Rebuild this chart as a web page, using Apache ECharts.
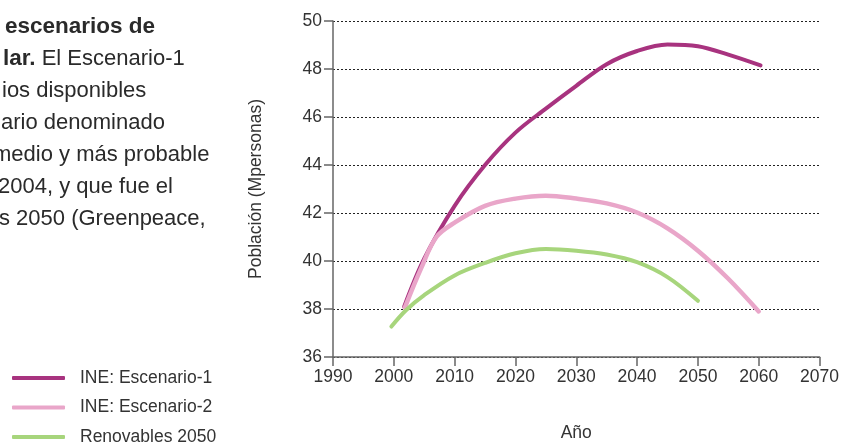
<!DOCTYPE html>
<html><head><meta charset="utf-8">
<script src="https://cdn.jsdelivr.net/npm/echarts@6/dist/echarts.min.js"></script>
<style>html,body{margin:0;padding:0;background:#fff}#c{width:842px;height:447px}</style>
</head><body><div id="c"></div>
<script>
var seriesNames = ['INE: Escenario-1', 'INE: Escenario-2', 'Renovables 2050'];
var esc1Years = [2001.7, 2005, 2010, 2015, 2020, 2025, 2030, 2035, 2040, 2045, 2050, 2055, 2060.3];
var esc1Vals  = [38.1, 40.1, 42.3, 44.0, 45.35, 46.35, 47.3, 48.2, 48.75, 49.02, 48.95, 48.6, 48.15];
var esc2Years = [2001.8, 2004.5, 2007, 2010, 2015, 2020, 2025, 2030, 2035, 2040, 2045, 2050, 2055, 2060];
var esc2Vals  = [38.05, 39.7, 41.0, 41.6, 42.3, 42.6, 42.72, 42.6, 42.4, 42.02, 41.36, 40.43, 39.26, 37.9];
var renYears  = [1999.6, 2002, 2005, 2010, 2015, 2020, 2025, 2030, 2035, 2040, 2045, 2050];
var renVals   = [37.27, 37.95, 38.58, 39.4, 39.92, 40.32, 40.5, 40.43, 40.27, 39.95, 39.33, 38.34];
var xTicks = [1990, 2070, 10];
var yTicks = [36, 50, 2];
var xName = 'Año';
var yName = 'Población (Mpersonas)';
var paragraph = [
  [{t:'escenarios de', b:true}],
  [{t:'lar.', b:true}, {t:' El Escenario-1', b:false}],
  [{t:'ios disponibles', b:false}],
  [{t:'ario denominado', b:false}],
  [{t:'medio y más probable', b:false}],
  [{t:'2004, y que fue el', b:false}],
  [{t:'s 2050 (Greenpeace,', b:false}]
];
var paraX = [5, 3, 2, 1, -7, -2, -1];

function pairs(xs, ys){ return xs.map(function(x,i){ return [x, ys[i]]; }); }

var FONT = '"Liberation Sans", Arial, sans-serif';
var TXT = '#333';
var graphics = [];
paragraph.forEach(function(line, i){
  var rich = {};
  var str = line.map(function(seg, j){
    rich['s'+j] = {fontWeight: seg.b ? 'bold' : 'normal', fontSize: seg.b ? 22.5 : 22, fontFamily: FONT, fill: '#2a2a2a', lineHeight:22};
    return '{s'+j+'|'+seg.t+'}';
  }).join('');
  graphics.push({type:'text', x: paraX[i], y: 16 + i*32, silent:true,
    style:{text: str, rich: rich, fontSize:22, fontFamily: FONT, fill:'#2a2a2a', verticalAlign:'top', align:'left'}});
});

var legendTops = [368, 397.5, 427];
var legends = seriesNames.map(function(n, i){
  return {
    orient:'vertical', left:12, top:legendTops[i], padding:0, itemWidth:53, itemHeight:4,
    icon:'roundRect',
    textStyle:{fontSize:17.5, fontFamily:FONT, color:TXT, lineHeight:20, padding:[0,0,0,10]},
    data:[n]
  };
});

var chart = echarts.init(document.getElementById('c'), null, {renderer:'canvas', width:842, height:447});
chart.setOption({
  animation:false,
  grid:{left:333, width:488, top:21, height:340, containLabel:false},
  graphic: graphics,
  legend: legends,
  xAxis:{
    type:'value', min:xTicks[0], max:xTicks[1], interval:xTicks[2],
    name:xName, nameLocation:'middle', nameGap:67,
    nameTextStyle:{fontSize:17.5, fontFamily:FONT, color:TXT},
    axisLine:{show:true, lineStyle:{color:'#666', width:1.5}},
    axisTick:{show:true, length:9, lineStyle:{color:'#666', width:1.5}},
    axisLabel:{fontSize:17.5, fontFamily:FONT, color:TXT, margin:11, formatter:function(v){return String(v);}},
    splitLine:{show:false}
  },
  yAxis:{
    type:'value', min:yTicks[0], max:yTicks[1], interval:yTicks[2],
    name:yName, nameLocation:'middle', nameGap:68,
    nameTextStyle:{fontSize:17.5, fontFamily:FONT, color:TXT},
    axisLine:{show:true, lineStyle:{color:'#666', width:1.5}},
    axisTick:{show:true, length:9, lineStyle:{color:'#666', width:1.5}},
    axisLabel:{fontSize:17.5, fontFamily:FONT, color:TXT, margin:11},
    splitLine:{show:true, lineStyle:{color:'#222', width:1, type:[2,2]}}
  },
  series:[
    {name:seriesNames[0], type:'line', data:pairs(esc1Years, esc1Vals), smooth:0.35, symbol:'none',
     lineStyle:{color:'#A8337F', width:4, cap:'round'}, itemStyle:{color:'#A8337F'}, z:2},
    {name:seriesNames[1], type:'line', data:pairs(esc2Years, esc2Vals), smooth:0.35, symbol:'none',
     lineStyle:{color:'#E9A6C9', width:4.5, cap:'round'}, itemStyle:{color:'#E9A6C9'}, z:3},
    {name:seriesNames[2], type:'line', data:pairs(renYears, renVals), smooth:0.35, symbol:'none',
     lineStyle:{color:'#A7D57C', width:4, cap:'round'}, itemStyle:{color:'#A7D57C'}, z:4}
  ]
});
</script>
</body></html>
